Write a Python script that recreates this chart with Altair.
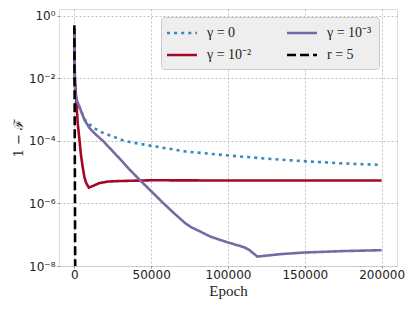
import altair as alt
import pandas as pd

# ---- data ----
labels = ["γ = 0", "γ = 10⁻²", "γ = 10⁻³", "r = 5"]
colors = ["#348ABD", "#A60628", "#7A68A6", "#000000"]
dashes = [[3, 4.1], [1, 0], [1, 0], [9, 4]]
draw_order = ["γ = 0", "γ = 10⁻²", "γ = 10⁻³", "r = 5"]

g0_epoch = [0, 150, 400, 650, 1500, 3300, 6560, 9800, 13800, 17900, 22300, 26700,
            31000, 35400, 50300, 72100, 100500, 125000, 152000, 175000, 200000]
g0_val = [0.4, 3e-2, 6e-3, 3.3e-3, 2e-3, 1.23e-3, 4.9e-4, 3.4e-4, 2.4e-4, 1.86e-4,
          1.55e-4, 1.29e-4, 1.07e-4, 9.3e-5, 6.9e-5, 4.6e-5, 3.4e-5, 2.7e-5, 2.2e-5,
          1.9e-5, 1.7e-5]

g2_epoch = [0, 300, 1000, 2200, 3300, 4300, 5400, 6500, 7700, 9400, 12000, 16400,
            22000, 29500, 50300, 100000, 150000, 200000]
g2_val = [0.3, 1e-2, 3e-3, 3.6e-4, 1.1e-4, 3.5e-5, 1.5e-5, 7e-6, 4.5e-6, 3.2e-6,
          3.6e-6, 4.5e-6, 5e-6, 5.2e-6, 5.5e-6, 5.4e-6, 5.4e-6, 5.4e-6]

g3_epoch = [0, 150, 400, 650, 1500, 3300, 6560, 9800, 13100, 18600, 23000, 29500,
            36000, 42600, 49200, 57900, 65000, 72100, 76000, 82000, 88500, 99500,
            110400, 114000, 119100, 134400, 150000, 175000, 200000]
g3_val = [0.4, 3e-2, 6e-3, 3.3e-3, 2e-3, 1.23e-3, 4.7e-4, 2.6e-4, 1.74e-4, 1.0e-4,
          5.9e-5, 2.7e-5, 1.2e-5, 5.6e-6, 2.7e-6, 1.02e-6, 4.8e-7, 2.35e-7, 1.74e-7,
          1.26e-7, 8.7e-8, 5.75e-8, 4.0e-8, 3.2e-8, 2.0e-8, 2.4e-8, 2.7e-8, 3.0e-8, 3.2e-8]

r5_epoch = [0, 600]
r5_val = [0.5, 1e-9]

series = {
    "γ = 0": (g0_epoch, g0_val),
    "γ = 10⁻²": (g2_epoch, g2_val),
    "γ = 10⁻³": (g3_epoch, g3_val),
    "r = 5": (r5_epoch, r5_val),
}

rows = []
for k, name in enumerate(draw_order):
    ep, vals = series[name]
    for i, (e, v) in enumerate(zip(ep, vals)):
        rows.append({"series": name, "epoch": e, "value": v, "ord": k, "idx": i})
df = pd.DataFrame(rows)

label_expr = ("datum.value >= 0.5 ? '10⁰' : datum.value >= 0.005 ? '10⁻²' : "
              "datum.value >= 5e-5 ? '10⁻⁴' : datum.value >= 5e-7 ? '10⁻⁶' : '10⁻⁸'")

legend = alt.Legend(
    title=None, orient="none", legendX=102, legendY=8, columns=2,
    columnPadding=30, rowPadding=6, padding=7,
    symbolType="M-2,0H2", symbolSize=225, symbolStrokeWidth=2.5, symbolOffset=5,
    labelFont="Liberation Serif", labelFontSize=14, labelColor="#222222",
    labelOffset=16, fillColor="#eeeeee", strokeColor="#cccccc", cornerRadius=3,
)

chart = alt.Chart(df).mark_line(clip=True, strokeWidth=2.6, strokeCap="butt").encode(
    x=alt.X("epoch:Q", scale=alt.Scale(domain=[-10000, 210000], nice=False, zero=False),
            axis=alt.Axis(values=[0, 50000, 100000, 150000, 200000], format="d",
                          title="Epoch", titleFont="Liberation Serif", titleFontSize=15,
                          titleFontWeight="normal", titleColor="#222222", titlePadding=3,
                          labelFont="DejaVu Sans", labelFontSize=12, labelColor="#222222",
                          labelPadding=1, tickSize=2, tickColor="#888888",
                          grid=True, gridColor="#b2b2b2", gridDash=[2, 2], gridWidth=0.8,
                          domain=False)),
    y=alt.Y("value:Q", scale=alt.Scale(type="log", domain=[1e-8, 1.64], nice=False),
            axis=alt.Axis(values=[1, 1e-2, 1e-4, 1e-6, 1e-8], labelExpr=label_expr,
                          title="1 − ℱ", titleFont="DejaVu Serif", titleFontSize=13,
                          titleFontWeight="normal", titleColor="#222222", titlePadding=3,
                          labelFont="DejaVu Sans", labelFontSize=12, labelColor="#222222",
                          labelPadding=2, tickSize=2, tickColor="#888888",
                          grid=True, gridColor="#b2b2b2", gridDash=[2, 2], gridWidth=0.8,
                          domain=False)),
    color=alt.Color("series:N", scale=alt.Scale(domain=labels, range=colors), legend=legend),
    strokeDash=alt.StrokeDash("series:N", scale=alt.Scale(domain=labels, range=dashes),
                              legend=legend),
    order=alt.Order("idx:Q"),
    detail="ord:O",
).properties(
    width=338, height=257,
    autosize=alt.AutoSizeParams(type="none"),
    padding={"left": 51, "top": 1, "right": 10, "bottom": 37},
).configure_view(
    fill="#eeeeee", stroke="#bcbcbc", strokeWidth=1
).configure(background="white")

chart.save("out.html", embed_options={"renderer": "svg", "actions": False})
